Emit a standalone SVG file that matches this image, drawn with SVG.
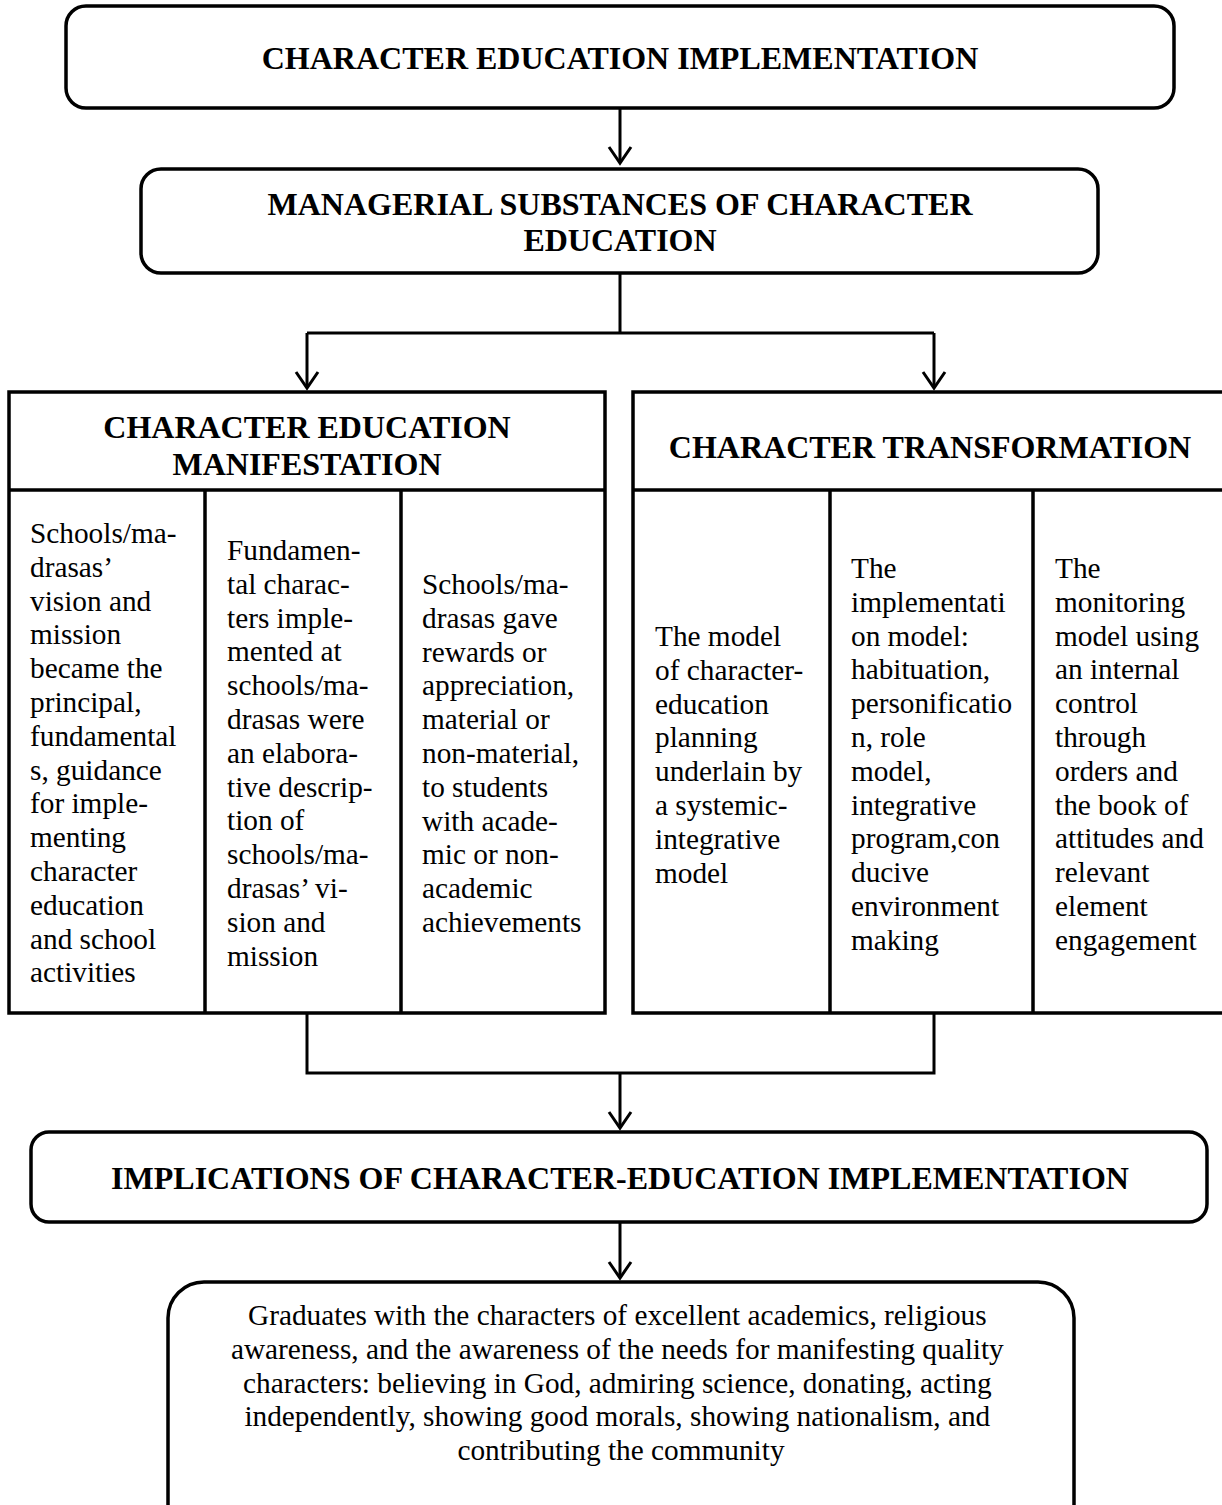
<svg xmlns="http://www.w3.org/2000/svg" width="1222" height="1505" viewBox="0 0 1222 1505">
<style>
.box{fill:#fff;stroke:#000;stroke-width:3.5}
.div{fill:none;stroke:#000;stroke-width:3.5}
.con{fill:none;stroke:#000;stroke-width:3}
text{font-family:'Liberation Serif',Tinos,'Times New Roman','DejaVu Serif','Noto Serif',serif;fill:#000}
.h{font-weight:bold;font-size:32px;text-anchor:middle}
.t{font-size:29.3px}
.c{text-anchor:middle}
</style>
<defs>
<marker id="arr" markerUnits="userSpaceOnUse" viewBox="-18 -13 20 26" markerWidth="20" markerHeight="26" refX="0" refY="0" orient="auto" overflow="visible">
<path d="M-16,-11 L0,0 L-16,11" fill="none" stroke="#000" stroke-width="3"/>
</marker>
</defs>
<rect x="0" y="0" width="1222" height="1505" fill="#fff"/>
<g id="connectors">
<path class="con" d="M620,108 V163" marker-end="url(#arr)"/>
<path class="con" d="M620,273 V333 M307,333 H934"/>
<path class="con" d="M307,333 V388" marker-end="url(#arr)"/>
<path class="con" d="M934,333 V388" marker-end="url(#arr)"/>
<path class="con" d="M307,1013 V1073 H934 V1013"/>
<path class="con" d="M620,1073 V1128" marker-end="url(#arr)"/>
<path class="con" d="M620,1222 V1278" marker-end="url(#arr)"/>
</g>
<g id="n-implementation">
<rect class="box" x="66" y="6" width="1108" height="102" rx="20"/>
<text class="h" x="620" y="69" font-family="Liberation Serif, serif">CHARACTER EDUCATION IMPLEMENTATION</text>
</g>
<g id="n-managerial">
<rect class="box" x="141" y="169" width="957" height="104" rx="20"/>
<text class="h" x="620" y="215">MANAGERIAL SUBSTANCES OF CHARACTER</text>
<text class="h" x="620" y="251">EDUCATION</text>
</g>
<g id="n-manifestation">
<rect class="box" x="9" y="392" width="596" height="621"/>
<path class="div" d="M9,490 H605 M205,490 V1013 M401,490 V1013"/>
<text class="h" x="307" y="438">CHARACTER EDUCATION</text>
<text class="h" x="307" y="475">MANIFESTATION</text>
<text class="t" x="30" y="543">
<tspan x="30" dy="0">Schools/ma-</tspan>
<tspan x="30" dy="33.8">drasas’</tspan>
<tspan x="30" dy="33.8">vision and</tspan>
<tspan x="30" dy="33.8">mission</tspan>
<tspan x="30" dy="33.8">became the</tspan>
<tspan x="30" dy="33.8">principal,</tspan>
<tspan x="30" dy="33.8">fundamental</tspan>
<tspan x="30" dy="33.8">s, guidance</tspan>
<tspan x="30" dy="33.8">for imple-</tspan>
<tspan x="30" dy="33.8">menting</tspan>
<tspan x="30" dy="33.8">character</tspan>
<tspan x="30" dy="33.8">education</tspan>
<tspan x="30" dy="33.8">and school</tspan>
<tspan x="30" dy="33.8">activities</tspan>
</text>
<text class="t" x="227" y="560">
<tspan x="227" dy="0">Fundamen-</tspan>
<tspan x="227" dy="33.8">tal charac-</tspan>
<tspan x="227" dy="33.8">ters imple-</tspan>
<tspan x="227" dy="33.8">mented at</tspan>
<tspan x="227" dy="33.8">schools/ma-</tspan>
<tspan x="227" dy="33.8">drasas were</tspan>
<tspan x="227" dy="33.8">an elabora-</tspan>
<tspan x="227" dy="33.8">tive descrip-</tspan>
<tspan x="227" dy="33.8">tion of</tspan>
<tspan x="227" dy="33.8">schools/ma-</tspan>
<tspan x="227" dy="33.8">drasas’ vi-</tspan>
<tspan x="227" dy="33.8">sion and</tspan>
<tspan x="227" dy="33.8">mission</tspan>
</text>
<text class="t" x="422" y="594">
<tspan x="422" dy="0">Schools/ma-</tspan>
<tspan x="422" dy="33.8">drasas gave</tspan>
<tspan x="422" dy="33.8">rewards or</tspan>
<tspan x="422" dy="33.8">appreciation,</tspan>
<tspan x="422" dy="33.8">material or</tspan>
<tspan x="422" dy="33.8">non-material,</tspan>
<tspan x="422" dy="33.8">to students</tspan>
<tspan x="422" dy="33.8">with acade-</tspan>
<tspan x="422" dy="33.8">mic or non-</tspan>
<tspan x="422" dy="33.8">academic</tspan>
<tspan x="422" dy="33.8">achievements</tspan>
</text>
</g>
<g id="n-transformation">
<rect class="box" x="633" y="392" width="620" height="621"/>
<path class="div" d="M633,490 H1253 M830,490 V1013 M1033,490 V1013"/>
<text class="h" x="930" y="458">CHARACTER TRANSFORMATION</text>
<text class="t" x="655" y="646">
<tspan x="655" dy="0">The model</tspan>
<tspan x="655" dy="33.8">of character-</tspan>
<tspan x="655" dy="33.8">education</tspan>
<tspan x="655" dy="33.8">planning</tspan>
<tspan x="655" dy="33.8">underlain by</tspan>
<tspan x="655" dy="33.8">a systemic-</tspan>
<tspan x="655" dy="33.8">integrative</tspan>
<tspan x="655" dy="33.8">model</tspan>
</text>
<text class="t" x="851" y="578">
<tspan x="851" dy="0">The</tspan>
<tspan x="851" dy="33.8">implementati</tspan>
<tspan x="851" dy="33.8">on model:</tspan>
<tspan x="851" dy="33.8">habituation,</tspan>
<tspan x="851" dy="33.8">personificatio</tspan>
<tspan x="851" dy="33.8">n, role</tspan>
<tspan x="851" dy="33.8">model,</tspan>
<tspan x="851" dy="33.8">integrative</tspan>
<tspan x="851" dy="33.8">program,con</tspan>
<tspan x="851" dy="33.8">ducive</tspan>
<tspan x="851" dy="33.8">environment</tspan>
<tspan x="851" dy="33.8">making</tspan>
</text>
<text class="t" x="1055" y="578">
<tspan x="1055" dy="0">The</tspan>
<tspan x="1055" dy="33.8">monitoring</tspan>
<tspan x="1055" dy="33.8">model using</tspan>
<tspan x="1055" dy="33.8">an internal</tspan>
<tspan x="1055" dy="33.8">control</tspan>
<tspan x="1055" dy="33.8">through</tspan>
<tspan x="1055" dy="33.8">orders and</tspan>
<tspan x="1055" dy="33.8">the book of</tspan>
<tspan x="1055" dy="33.8">attitudes and</tspan>
<tspan x="1055" dy="33.8">relevant</tspan>
<tspan x="1055" dy="33.8">element</tspan>
<tspan x="1055" dy="33.8">engagement</tspan>
</text>
</g>
<g id="n-implications">
<rect class="box" x="31" y="1132" width="1176" height="90" rx="18"/>
<text class="h" x="620" y="1189">IMPLICATIONS OF CHARACTER-EDUCATION IMPLEMENTATION</text>
</g>
<g id="n-graduates">
<rect class="box" x="168" y="1282" width="906" height="262" rx="36"/>
<text class="t c" x="621" y="1325">
<tspan x="621" dy="0">Graduates with the characters of excellent academics, religious</tspan>
<tspan x="621" dy="33.8">awareness, and the awareness of the needs for manifesting quality</tspan>
<tspan x="621" dy="33.8">characters: believing in God, admiring science, donating, acting</tspan>
<tspan x="621" dy="33.8">independently, showing good morals, showing nationalism, and</tspan>
<tspan x="621" dy="33.8">contributing the community</tspan>
</text>
</g>
</svg>
